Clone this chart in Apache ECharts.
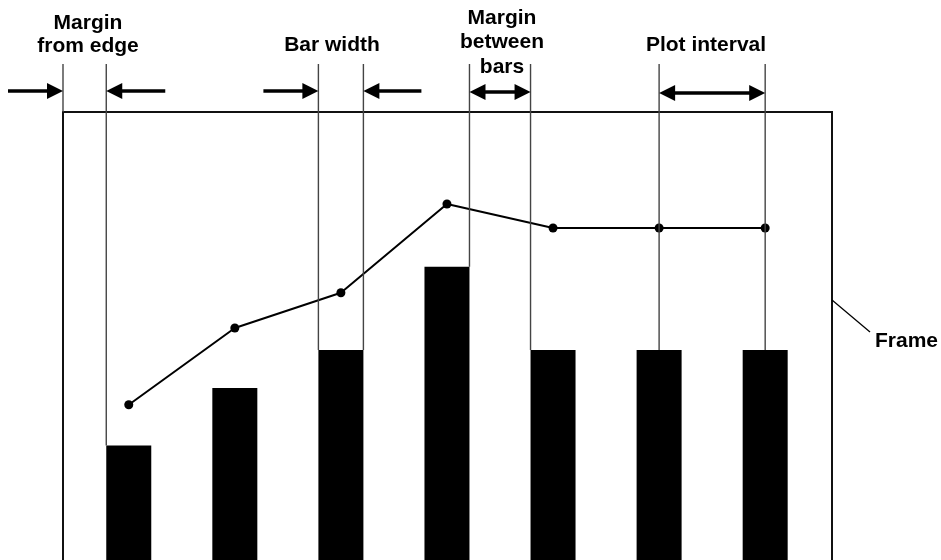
<!DOCTYPE html>
<html>
<head>
<meta charset="utf-8">
<title>Bar / line layout terms</title>
<script src="https://cdn.jsdelivr.net/npm/echarts@6/dist/echarts.min.js"></script>
<style>
  html, body { margin: 0; padding: 0; background: #fff; }
  #chart { width: 941px; height: 560px; }
</style>
</head>
<body>
<div id="chart"></div>
<script>
// slot index of each bar / point, and the values
const slots = [0, 1, 2, 3, 4, 5, 6]
const barValues = [36.6, 51, 60.5, 81.3, 60.5, 60.5, 60.5]
const lineValues = [46.8, 66, 74.8, 97, 91, 91, 91]

const X_MIN = -0.62
const X_MAX = 6.63
const Y_MIN = 8 // the figure is cut off before the bars reach zero
const Y_MAX = 120
const BAR_WIDTH = 45
const INK = '#000'
const GUIDE = '#444'
const FONT = 'bold 21px "Liberation Sans", Arial, sans-serif'

const chart = echarts.init(document.getElementById('chart'))

chart.setOption({
	animation: false,
	grid: { left: 63, right: 109, top: 112, bottom: 0 },
	xAxis: { type: 'value', min: X_MIN, max: X_MAX, show: false },
	yAxis: { type: 'value', min: Y_MIN, max: Y_MAX, show: false },
	series: [
		{
			type: 'bar',
			barWidth: BAR_WIDTH,
			itemStyle: { color: INK },
			data: slots.map((s, i) => [s, barValues[i]])
		},
		{
			type: 'line',
			symbol: 'circle',
			symbolSize: 9,
			lineStyle: { color: INK, width: 2 },
			itemStyle: { color: INK },
			z: 3,
			data: slots.map((s, i) => [s, lineValues[i]])
		}
	]
})

// annotation overlay, positioned from the chart's own scales
function px(x, y) {
	return chart.convertToPixel({ gridIndex: 0 }, [x, y])
}
const cx = i => px(slots[i], Y_MIN)[0]
const barLeft = i => cx(i) - BAR_WIDTH / 2
const barRight = i => cx(i) + BAR_WIDTH / 2
const barTop = i => px(slots[i], barValues[i])[1]
const [frameLeft, frameTop] = px(X_MIN, Y_MAX)
const [frameRight, frameBottom] = px(X_MAX, Y_MIN)

const GUIDE_TOP = 64
const graphics = []

// open frame: the bottom edge lies below the page
graphics.push({
	type: 'polyline', z: 9,
	shape: { points: [[frameLeft, frameBottom + 10], [frameLeft, frameTop], [frameRight, frameTop], [frameRight, frameBottom + 10]] },
	style: { stroke: '#111', lineWidth: 2, fill: null }
})

function guide(x, yEnd) {
	graphics.push({
		type: 'line', z: 10,
		shape: { x1: x, y1: GUIDE_TOP, x2: x, y2: yEnd },
		style: { stroke: GUIDE, lineWidth: 1.4 }
	})
}

function head(tip, y, dir) {
	graphics.push({
		type: 'polygon', z: 11,
		shape: { points: [[tip, y], [tip - dir * 16, y - 8], [tip - dir * 16, y + 8]] },
		style: { fill: INK }
	})
}

function shaft(x1, x2, y) {
	graphics.push({
		type: 'line', z: 11,
		shape: { x1: x1, y1: y, x2: x2, y2: y },
		style: { stroke: INK, lineWidth: 3.5 }
	})
}

// single arrow pointing at tip, dir = 1 points right, -1 points left
function arrow(tip, y, dir, len) {
	shaft(tip - dir * len, tip - dir * 12, y)
	head(tip, y, dir)
}

function doubleArrow(a, b, y) {
	shaft(a + 12, b - 12, y)
	head(a, y, -1)
	head(b, y, 1)
}

function label(text, x, y, align, lineHeight) {
	graphics.push({
		type: 'text', z: 12,
		style: {
			text: text, x: x, y: y,
			fill: INK, font: FONT,
			textAlign: align, verticalAlign: 'middle',
			lineHeight: lineHeight || 24
		}
	})
}

// guide lines
guide(frameLeft, frameTop)
guide(barLeft(0), barTop(0))
guide(barLeft(2), barTop(2))
guide(barRight(2), barTop(2))
guide(barRight(3), barTop(3))
guide(barLeft(4), barTop(4))
guide(cx(5), barTop(5))
guide(cx(6), barTop(6))

// arrows
arrow(frameLeft, 91, 1, 55)
arrow(barLeft(0), 91, -1, 59)
arrow(barLeft(2), 91, 1, 55)
arrow(barRight(2), 91, -1, 58)
doubleArrow(barRight(3), barLeft(4), 92)
doubleArrow(cx(5), cx(6), 93)

// frame leader
graphics.push({
	type: 'line', z: 10,
	shape: { x1: frameRight, y1: 300, x2: 870, y2: 332 },
	style: { stroke: INK, lineWidth: 1.3 }
})

// labels
label('Margin\nfrom edge', 88, 34.5, 'center', 23.5)
label('Bar width', 332, 45, 'center')
label('Margin\nbetween\nbars', 502, 42.5, 'center', 24.5)
label('Plot interval', 706, 45, 'center')
label('Frame', 875, 341, 'left')

chart.setOption({ graphic: graphics })
</script>
</body>
</html>
